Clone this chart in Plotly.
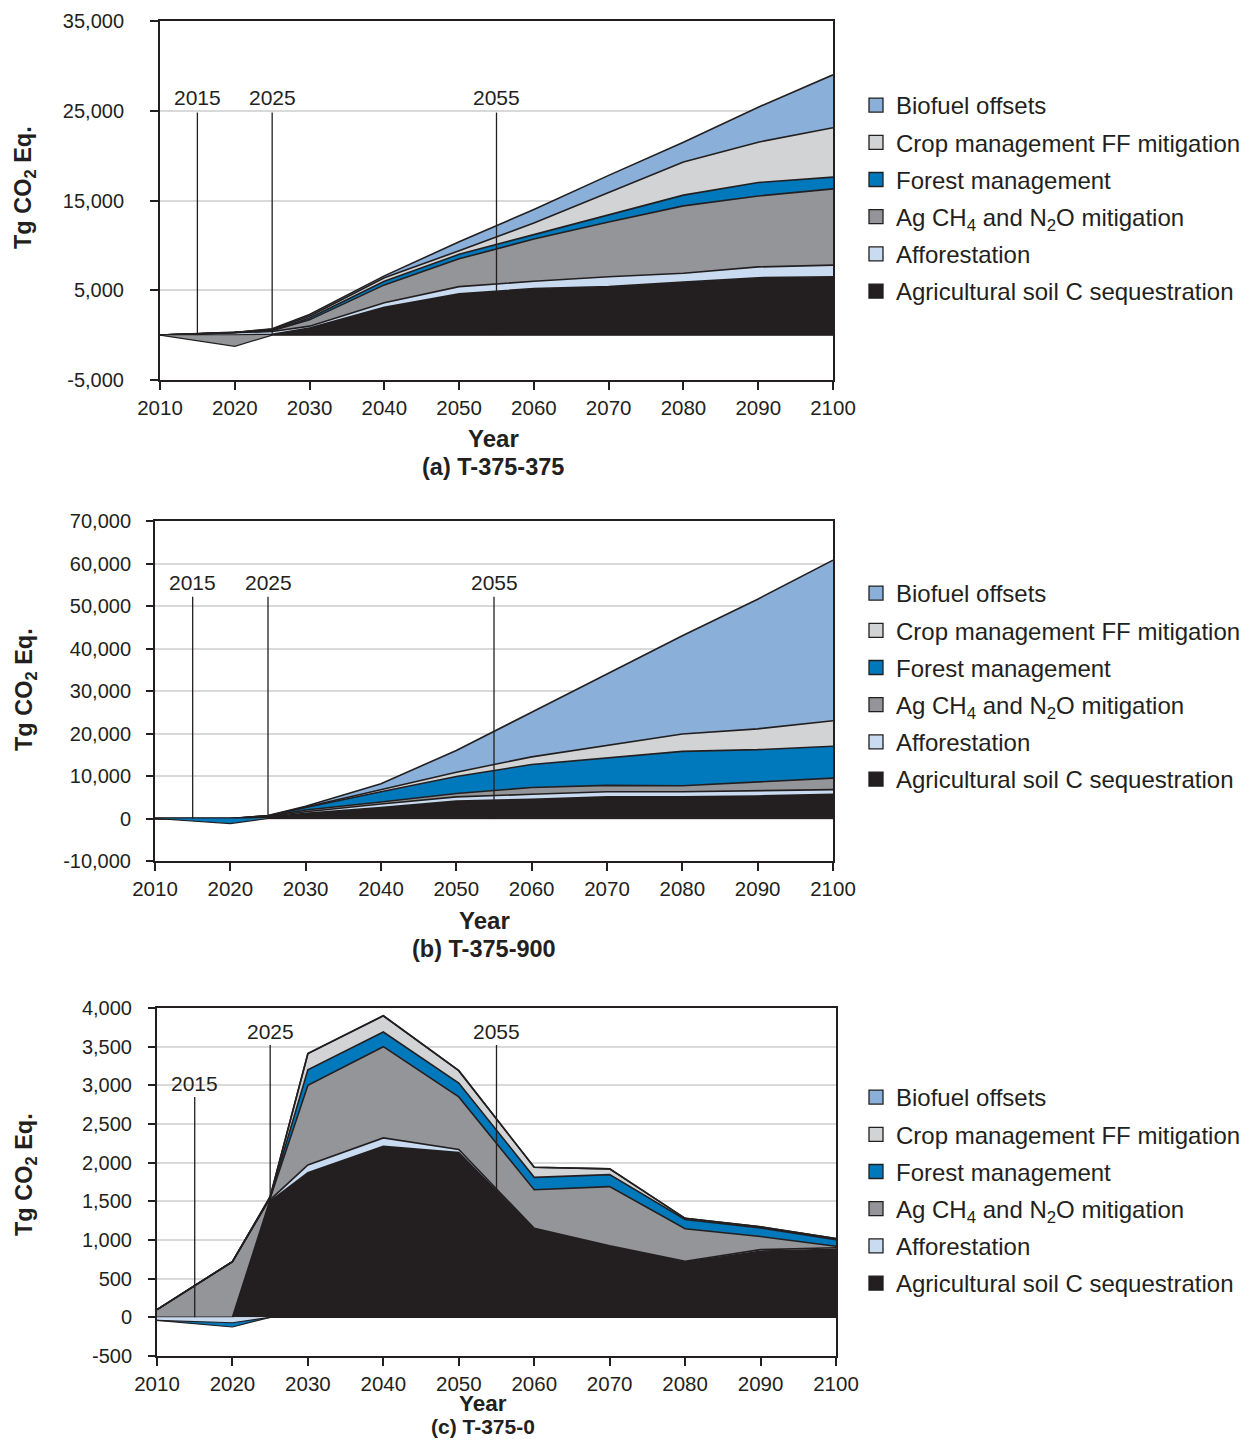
import plotly.graph_objects as go

# ---------------- data ----------------
years = [2010, 2020, 2025, 2030, 2040, 2050, 2060, 2070, 2080, 2090, 2100]

series_names = [
    "Agricultural soil C sequestration",
    "Afforestation",
    "Ag CH<sub>4</sub> and N<sub>2</sub>O mitigation",
    "Forest management",
    "Crop management FF mitigation",
    "Biofuel offsets",
]
series_colors = ["#231f20", "#c8dbf0", "#939598", "#0079bc", "#d1d3d4", "#8aafd8"]

# (a) T-375-375
soil_a = [0, 0, 100, 800, 3100, 4600, 5200, 5400, 5900, 6400, 6500]
aff_a = [0, 300, 300, 200, 500, 800, 800, 1100, 1000, 1200, 1300]
ag_a = [0, -1250, 100, 700, 2000, 3100, 4700, 6100, 7500, 7900, 8500]
forest_a = [0, 0, 50, 200, 400, 500, 500, 800, 1200, 1500, 1300]
crop_a = [0, 0, 100, 200, 400, 400, 1300, 2500, 3700, 4500, 5500]
bio_a = [0, 0, 50, 200, 200, 1000, 1500, 1900, 2200, 3900, 5900]

# (b) T-375-900
soil_b = [0, 0, 300, 1200, 2600, 4100, 4500, 5100, 5100, 5300, 5700]
aff_b = [0, 0, 100, 400, 800, 1000, 1200, 1200, 1200, 1200, 1100]
ag_b = [0, 0, 100, 400, 500, 800, 1600, 1500, 1400, 2100, 2700]
forest_b = [0, -1200, 100, 600, 2400, 4000, 5400, 6500, 8100, 7600, 7500]
crop_b = [0, 0, 50, 100, 500, 1000, 1800, 2900, 4100, 4900, 6000]
bio_b = [0, 0, 50, 200, 1400, 5100, 10500, 16800, 23100, 30500, 37800]

# (c) T-375-0
soil_c = [0, 0, 1500, 1870, 2210, 2130, 1140, 920, 715, 855, 880]
aff_c = [-40, -70, 20, 100, 110, 40, 10, 5, 10, 20, 20]
ag_c = [100, 720, 20, 1030, 1180, 680, 500, 765, 420, 170, 20]
forest_c = [0, -55, 10, 200, 190, 180, 160, 155, 120, 110, 85]
crop_c = [0, 0, 10, 210, 210, 160, 130, 75, 15, 15, 15]
bio_c = [0, 0, 0, 0, 0, 0, 0, 0, 0, 0, 0]

panel_titles = ["(a) T-375-375", "(b) T-375-900", "(c) T-375-0"]
marker_years = [2015, 2025, 2055]

xticks = [2010, 2020, 2030, 2040, 2050, 2060, 2070, 2080, 2090, 2100]
yticks_a = [-5000, 5000, 15000, 25000, 35000]
yticks_b = [-10000, 0, 10000, 20000, 30000, 40000, 50000, 60000, 70000]
yticks_c = [-500, 0, 500, 1000, 1500, 2000, 2500, 3000, 3500, 4000]

panels = [
    [soil_a, aff_a, ag_a, forest_a, crop_a, bio_a],
    [soil_b, aff_b, ag_b, forest_b, crop_b, bio_b],
    [soil_c, aff_c, ag_c, forest_c, crop_c, bio_c],
]
yticks_all = [yticks_a, yticks_b, yticks_c]

# ---------------- layout helpers ----------------
PAGE_W, PAGE_H = 1257, 1447
OFF = 8  # default page body margin
W, H = PAGE_W - 2 * OFF, PAGE_H - 2 * OFF
FONT = "Liberation Sans, Arial, Helvetica, sans-serif"
INK = "#231f20"


def px_x(p):
    return (p - OFF) / W


def px_y(p):
    return 1 - (p - OFF) / H


# plot boxes in page pixels: (left, right, top, bottom)
boxes = [(160, 833, 21, 380), (155, 833, 521, 861), (157, 836, 1008, 1356)]
yranges = [[-5000, 35000], [-10000, 70000], [-500, 4000]]
ylabel_std = [22, 11, 12]
ylabel_len = [8, 7, 7]
# marker label / line top positions (data units) per panel and marker
marker_label_y = [[26500, 26500, 26500], [55500, 55500, 55500], [3030, 3700, 3700]]
marker_line_top = [[24800, 24800, 24800], [52200, 52200, 52200], [2850, 3520, 3520]]
year_title_px = [(493, 438), (484, 921), (483, 1403)]
year_title_size = [24, 24, 22.5]
panel_title_px = [(493, 467), (484, 949), (483, 1426)]
panel_title_size = [23.5, 23.5, 21]
ytitle_px = [(25, 188), (25, 690), (25, 1175)]
legend_top_px = [(856, 83), (856, 571), (856, 1075)]

fig = go.Figure()
annotations = []
shapes = []

for p, data in enumerate(panels):
    suffix = "" if p == 0 else str(p + 1)
    xa, ya = "x" + suffix, "y" + suffix
    # positive stack
    for name, col, vals in zip(series_names, series_colors, data):
        pos = [v if v > 0 else 0 for v in vals]
        fig.add_trace(go.Scatter(
            x=years, y=pos, xaxis=xa, yaxis=ya, stackgroup=f"pos{p}",
            mode="lines", line=dict(color=INK, width=1.6), fillcolor=col,
            name=name, showlegend=False, hoverinfo="skip"))
    # negative stack
    for name, col, vals in zip(series_names, series_colors, data):
        if min(vals) >= 0:
            continue
        neg = [v if v < 0 else 0 for v in vals]
        fig.add_trace(go.Scatter(
            x=years, y=neg, xaxis=xa, yaxis=ya, stackgroup=f"neg{p}",
            mode="lines", line=dict(color=INK, width=1.2), fillcolor=col,
            name=name, showlegend=False, hoverinfo="skip"))
    # legend entries (top to bottom: reverse stacking order)
    leg = "legend" if p == 0 else f"legend{p + 1}"
    for i in range(len(series_names) - 1, -1, -1):
        fig.add_trace(go.Scatter(
            x=[None], y=[None], xaxis=xa, yaxis=ya, mode="markers",
            marker=dict(symbol="square", size=14, color=series_colors[i],
                        line=dict(color=INK, width=1.3)),
            name=series_names[i], legend=leg, legendgroup=f"{p}_{i}",
            showlegend=True))

    l, r, t, b = boxes[p]
    yt = yticks_all[p]
    fig.layout["xaxis" + suffix] = dict(
        domain=[px_x(l), px_x(r)], range=[2010, 2100], anchor=ya,
        tickvals=xticks, ticktext=[str(v) for v in xticks],
        ticks="outside", ticklen=8, tickwidth=1.5, tickcolor=INK,
        showline=True, linewidth=2, linecolor=INK, mirror=True,
        showgrid=False, zeroline=False, automargin=False,
        tickfont=dict(size=20.5, color=INK, family=FONT), ticklabelstandoff=0)
    fig.layout["yaxis" + suffix] = dict(
        domain=[px_y(b), px_y(t)], range=yranges[p], anchor=xa,
        tickvals=yt, ticktext=[f"{v:,}" for v in yt],
        ticks="outside", ticklen=ylabel_len[p], tickwidth=1.5, tickcolor=INK,
        showline=True, linewidth=2, linecolor=INK, mirror=True,
        showgrid=True, gridcolor="#d9d9d9", gridwidth=1.5, zeroline=False,
        automargin=False,
        tickfont=dict(size=20, color=INK, family=FONT),
        ticklabelstandoff=ylabel_std[p])

    # marker year lines and labels
    for k, yr in enumerate(marker_years):
        shapes.append(dict(type="line", xref=xa, yref=ya, x0=yr, x1=yr,
                           y0=0, y1=marker_line_top[p][k], layer="above",
                           line=dict(color=INK, width=1.3)))
        annotations.append(dict(xref=xa, yref=ya, x=yr, y=marker_label_y[p][k],
                                text=str(yr), showarrow=False, xanchor="center",
                                yanchor="middle",
                                font=dict(size=21, color=INK, family=FONT)))
    # titles
    annotations.append(dict(xref="paper", yref="paper",
                            x=px_x(year_title_px[p][0]), y=px_y(year_title_px[p][1]),
                            text="<b>Year</b>", showarrow=False, xanchor="center",
                            yanchor="middle",
                            font=dict(size=year_title_size[p], color=INK, family=FONT)))
    annotations.append(dict(xref="paper", yref="paper",
                            x=px_x(panel_title_px[p][0]), y=px_y(panel_title_px[p][1]),
                            text=f"<b>{panel_titles[p]}</b>", showarrow=False,
                            xanchor="center", yanchor="middle",
                            font=dict(size=panel_title_size[p], color=INK, family=FONT)))
    annotations.append(dict(xref="paper", yref="paper",
                            x=px_x(ytitle_px[p][0]), y=px_y(ytitle_px[p][1]),
                            text="<b>Tg CO<sub>2</sub> Eq.</b>", showarrow=False,
                            textangle=-90, xanchor="center", yanchor="middle",
                            font=dict(size=23.5, color=INK, family=FONT)))

    lx, ly = legend_top_px[p]
    legend_cfg = dict(x=px_x(lx), y=px_y(ly), xanchor="left", yanchor="top",
                      font=dict(size=24, color=INK, family=FONT),
                      traceorder="grouped", tracegroupgap=3, itemwidth=30,
                      bgcolor="rgba(0,0,0,0)", borderwidth=0)
    fig.layout["legend" if p == 0 else f"legend{p + 1}"] = legend_cfg

fig.update_layout(
    width=W, height=H, margin=dict(l=0, r=0, t=0, b=0, autoexpand=False),
    paper_bgcolor="white", plot_bgcolor="white",
    font=dict(family=FONT, color=INK),
    annotations=annotations, shapes=shapes, showlegend=True,
)

fig.write_html("out.html")
